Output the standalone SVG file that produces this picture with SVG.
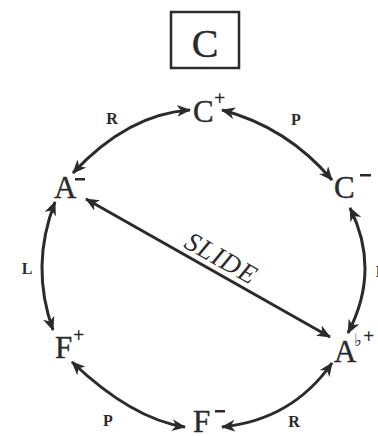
<svg xmlns="http://www.w3.org/2000/svg" width="378" height="436" viewBox="0 0 378 436">
<defs>
<marker id="ah" viewBox="0 0 14 12" refX="13" refY="6" markerWidth="14" markerHeight="12" markerUnits="userSpaceOnUse" orient="auto-start-reverse">
<path d="M0,0 L14,6 L0,12 L4,6 Z" fill="#2b2b2b"/>
</marker>
<style>
.node{font-family:"Liberation Serif","Times New Roman",serif;font-size:31px;fill:#2b2b2b;stroke:#2b2b2b;stroke-width:0.4}
.sup{font-family:"Liberation Serif","Times New Roman",serif;font-size:20px;font-weight:bold;fill:#2b2b2b}
.lab{font-family:"Liberation Serif","Times New Roman",serif;font-size:16px;font-weight:bold;fill:#2b2b2b;text-anchor:middle}
.arc{fill:none;stroke:#2b2b2b;stroke-width:3;marker-start:url(#ah);marker-end:url(#ah)}
</style>
</defs>
<rect width="378" height="436" fill="#ffffff"/>
<g id="title">
<rect x="171" y="12" width="68" height="56" fill="none" stroke="#2b2b2b" stroke-width="2.5"/>
<text x="205" y="57" text-anchor="middle" style="font-family:'Liberation Serif','Times New Roman',serif;font-size:40px;fill:#2b2b2b;stroke:#2b2b2b;stroke-width:0.4">C</text>
</g>
<g id="connectors">
<path class="arc" d="M73,173 Q128,114 190,110"/>
<path class="arc" d="M222,110 Q287,127 332,180"/>
<path class="arc" d="M55,202 Q30,266 53,330"/>
<path class="arc" d="M350,208 Q381,270 348,333"/>
<path class="arc" d="M72,362 Q132,419 185,427"/>
<path class="arc" d="M222,427 Q292,420 332,363"/>
<path class="arc" d="M86,199 L330,337"/>
<text class="lab" x="112" y="124">R</text>
<text class="lab" x="296" y="125">P</text>
<text class="lab" x="27" y="274">L</text>
<text class="lab" x="381" y="277">L</text>
<text class="lab" x="108" y="426">P</text>
<text class="lab" x="294" y="427">R</text>
<text transform="translate(217,266) rotate(29.5)" text-anchor="middle" style="font-family:'Liberation Serif','Times New Roman',serif;font-size:27px;font-style:italic;letter-spacing:1px;fill:#2b2b2b">SLIDE</text>
</g>
<g id="Cplus">
<text class="node" x="193" y="122">C</text>
<text class="sup" x="214" y="105">+</text>
</g>
<g id="Cminus">
<text class="node" x="334" y="198">C</text>
<rect x="360" y="174" width="11" height="2.5" fill="#2b2b2b"/>
</g>
<g id="Aminus">
<text class="node" x="54" y="198">A</text>
<rect x="75" y="178" width="10" height="2.5" fill="#2b2b2b"/>
</g>
<g id="Fplus">
<text class="node" x="55" y="358">F</text>
<text class="sup" x="73" y="342">+</text>
</g>
<g id="Fminus">
<text class="node" x="193" y="432">F</text>
<rect x="215" y="410" width="10" height="2.5" fill="#2b2b2b"/>
</g>
<g id="Aflatplus">
<text class="node" x="334" y="362">A</text>
<text x="354" y="346" style="font-family:'DejaVu Sans',sans-serif;font-size:17px;fill:#2b2b2b">♭</text>
<text class="sup" x="363" y="343">+</text>
</g>
</svg>
